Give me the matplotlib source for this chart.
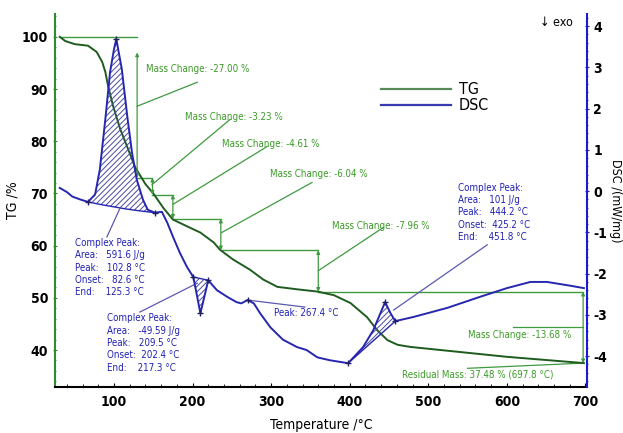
#!/usr/bin/env python3

import numpy as np
import matplotlib
matplotlib.use("Agg")
import matplotlib.pyplot as plt
import matplotlib.font_manager as fm
from matplotlib.ticker import MultipleLocator

# TG curve (temperature in degC, mass in %)
tg_temp = [31, 38, 50, 67, 78, 85, 89, 92.5, 99, 108, 118, 127, 140, 150, 163, 175, 193,
           210, 227, 235, 252, 273, 290, 308, 335, 359, 380, 401, 422, 435, 448, 461,
           477, 600, 698]
tg_mass = [100, 99.2, 98.6, 98.3, 97.1, 95.2, 93.3, 90.6, 86.7, 82.3, 78.5, 75.0, 71.8,
           70.0, 67.2, 65.0, 63.7, 62.5, 60.6, 59.2, 57.3, 55.4, 53.5, 52.1, 51.6, 51.2,
           50.5, 49.0, 46.3, 43.8, 41.9, 41.0, 40.6, 38.7, 37.5]

# DSC curve (mW/mg)
dsc_temp = [31, 40, 47, 57, 67, 76, 82, 89, 95, 100, 103, 110, 117, 123, 129, 137, 143,
            152, 161, 168, 175, 184, 193, 201, 210, 220, 231, 244, 256, 262, 270, 278,
            286, 299, 315, 333, 345, 359, 375, 398, 417, 430, 439, 445, 452, 458, 481,
            524, 566, 600, 630, 651, 677, 698]
dsc_val = [0.08, -0.02, -0.13, -0.2, -0.26, -0.08, 0.52, 1.74, 2.88, 3.44, 3.69, 2.96,
           1.81, 0.93, 0.28, -0.21, -0.45, -0.52, -0.5, -0.77, -1.1, -1.5, -1.84, -2.08,
           -2.96, -2.16, -2.4, -2.56, -2.69, -2.72, -2.64, -2.72, -2.96, -3.3, -3.6,
           -3.78, -3.85, -4.03, -4.1, -4.17, -3.78, -3.37, -2.96, -2.69, -2.96, -3.15,
           -3.05, -2.83, -2.56, -2.35, -2.2, -2.2, -2.28, -2.35]

# integration baselines / ranges of the three DSC peaks
base1_temp = [152, 130, 115, 100, 85, 67]
base1_val = [-0.52, -0.47, -0.43, -0.38, -0.33, -0.26]
peak1 = (67, 152)
peak2 = (201, 220)
peak3 = (398, 458)

# characteristic DSC points (+ markers)
mark_temp = [67, 103, 152, 201, 210, 220, 270, 398, 445, 458]
mark_val = [-0.26, 3.69, -0.52, -2.08, -2.96, -2.16, -2.64, -4.17, -2.69, -3.15]

# TG steps
step_temp = [129.5, 149, 175, 236, 360, 697]
mass_change = [-27.00, -3.23, -4.61, -6.04, -7.96, -13.68]
residual = (37.48, 697.8)

GREEN = "#1f5c1f"
LGREEN = "#3f9a3f"
TGREEN = "#3a9a26"
BLUE = "#2626b0"
SBLUE = "#1a1ad8"
TBLUE = "#2020b4"

plt.rcParams["axes.unicode_minus"] = False
plt.rcParams["hatch.linewidth"] = 0.7

# a condensed face looks closest to the original narrow font
if any("DejaVuSansCondensed" in f.fname for f in fm.fontManager.ttflist):
    plt.rcParams["font.family"] = ["DejaVu Sans"]
    plt.rcParams["font.stretch"] = "condensed"
    SMALL = 7
else:
    plt.rcParams["font.family"] = ["Liberation Sans", "DejaVu Sans"]
    SMALL = 6.5


def main():
    fig = plt.figure(figsize=(6.23, 4.33), dpi=100)
    ax = fig.add_axes([0.0883, 0.106, 0.854, 0.862])
    ax2 = ax.twinx()

    ax.set_xlim(25, 702)
    ax.set_ylim(32.9, 104.4)
    ax2.set_ylim(-4.75, 4.3)

    # TG
    ax.plot(tg_temp, tg_mass, color=GREEN, lw=1.4, zorder=3)

    # mass change steps
    levels = 100 + np.cumsum([0] + mass_change)
    ax.plot([31, step_temp[0]], [levels[0], levels[0]], color=LGREEN, lw=1)
    for i, t in enumerate(step_temp):
        ax.annotate("", xy=(t, levels[i + 1]), xytext=(t, levels[i] - (3 if i == 0 else 0)),
                    arrowprops=dict(arrowstyle="<|-|>", color=LGREEN, lw=0.9,
                                    mutation_scale=5, shrinkA=0, shrinkB=0))
        if i + 1 < len(step_temp):
            ax.plot([t, step_temp[i + 1]], [levels[i + 1], levels[i + 1]],
                    color=LGREEN, lw=1)

    # mass change labels: (text x, text y, leader from, leader to)
    mc_text = [(141, 93.8, (129.5, 86.7), (206, 91.3)),
               (190, 84.6, (148.6, 71.7), (248, 84.2)),
               (238, 79.4, (175, 67.9), (295, 79.0)),
               (299, 73.7, (237, 62.5), (352, 72.1)),
               (378, 63.8, (360, 55.2), (443, 63.5)),
               (551, 42.9, (608, 44.4), (697, 44.4))]
    for (tx, ty, p0, p1), mc in zip(mc_text, mass_change):
        ax.plot([p0[0], p1[0]], [p0[1], p1[1]], color=LGREEN, lw=0.9)
        ax.text(tx, ty, f"Mass Change: {mc:.2f} %", color=TGREEN, fontsize=SMALL,
                va="center", ha="left")
    ax.plot([550, 697], [36.5, 37.5], color=LGREEN, lw=0.9)
    ax.text(467, 35.4, f"Residual Mass: {residual[0]:.2f} % ({residual[1]:.1f} °C)",
            color=TGREEN, fontsize=SMALL, va="center", ha="left")

    # DSC
    ax2.plot(dsc_temp, dsc_val, color=BLUE, lw=1.4, zorder=3)
    t = np.array(dsc_temp)
    v = np.array(dsc_val)
    m1 = (t >= peak1[0]) & (t <= peak1[1])
    ax2.fill(np.r_[t[m1], base1_temp], np.r_[v[m1], base1_val],
             facecolor="none", edgecolor="#4a4aa0", hatch="//////", lw=0)
    ax2.plot(base1_temp, base1_val, color=BLUE, lw=1)
    for p in (peak2, peak3):
        m = (t >= p[0]) & (t <= p[1])
        ax2.fill(t[m], v[m], facecolor="none", edgecolor="#4a4aa0", hatch="//////", lw=0)
        ax2.plot([t[m][0], t[m][-1]], [v[m][0], v[m][-1]], color=BLUE, lw=1)
    ax2.plot(mark_temp, mark_val, "+", color="#202060", ms=5, mew=1, zorder=4)

    # DSC annotations
    ax2.plot([91, 108], [-1.11, -0.40], color="#5a5ab0", lw=0.9)
    ax2.text(50, -1.13, "Complex Peak:\nArea:   591.6 J/g\nPeak:   102.8 °C\n"
             "Onset:   82.6 °C\nEnd:    125.3 °C", color=TBLUE, fontsize=SMALL,
             va="top", ha="left", linespacing=1.3)
    ax2.plot([133, 206], [-2.93, -2.23], color="#5a5ab0", lw=0.9)
    ax2.text(91, -2.96, "Complex Peak:\nArea:   -49.59 J/g\nPeak:   209.5 °C\n"
             "Onset:  202.4 °C\nEnd:    217.3 °C", color=TBLUE, fontsize=SMALL,
             va="top", ha="left", linespacing=1.3)
    ax2.plot([270, 343], [-2.64, -2.81], color="#5a5ab0", lw=0.9)
    ax2.text(304, -2.95, "Peak: 267.4 °C", color=TBLUE, fontsize=SMALL, va="center")
    ax2.plot([575, 456], [-1.3, -2.88], color="#5a5ab0", lw=0.9)
    ax2.text(538, 0.21, "Complex Peak:\nArea:   101 J/g\nPeak:   444.2 °C\n"
             "Onset:  425.2 °C\nEnd:    451.8 °C", color=TBLUE, fontsize=SMALL,
             va="top", ha="left", linespacing=1.3)

    ax.text(0.912, 0.976, "↓ exo", transform=ax.transAxes, fontsize=9,
            va="center", ha="left")

    # legend
    ax.plot([], [], color="#5a8a5a", lw=1.6, label="TG")
    ax.plot([], [], color="#3a3ab0", lw=1.6, label="DSC")
    ax.legend(loc="center left", bbox_to_anchor=(0.585, 0.775), frameon=False,
              fontsize=11.5, handlelength=4.4, handletextpad=0.5, labelspacing=0.05)

    # axes styling
    ax.xaxis.set_major_locator(MultipleLocator(100))
    ax.xaxis.set_minor_locator(MultipleLocator(20))
    ax.yaxis.set_major_locator(MultipleLocator(10))
    ax.yaxis.set_minor_locator(MultipleLocator(2))
    ax2.yaxis.set_major_locator(MultipleLocator(1))
    ax2.yaxis.set_minor_locator(MultipleLocator(0.2))

    ax.spines["top"].set_visible(False)
    ax2.spines["top"].set_visible(False)
    ax2.spines["left"].set_visible(False)
    ax2.spines["bottom"].set_visible(False)
    ax.spines["right"].set_visible(False)
    ax.spines["left"].set_color("#2e8b2e")
    ax.spines["left"].set_linewidth(1.5)
    ax2.spines["right"].set_color(SBLUE)
    ax2.spines["right"].set_linewidth(1.5)
    ax.spines["bottom"].set_linewidth(1.5)

    ax.tick_params(axis="x", which="both", direction="in", length=3, labelsize=10,
                   pad=6)
    ax.tick_params(axis="x", which="minor", length=2)
    ax.tick_params(axis="y", which="both", direction="inout", color="#2e8b2e",
                   length=3, labelsize=10)
    ax.tick_params(axis="y", which="minor", length=2)
    ax2.tick_params(axis="y", which="both", direction="inout", color=SBLUE,
                    length=3, labelsize=10, pad=3)
    ax2.tick_params(axis="y", which="minor", length=2)
    for lbl in ax.get_xticklabels() + ax.get_yticklabels() + ax2.get_yticklabels():
        lbl.set_fontweight("bold")

    ax.set_xlabel("Temperature /°C", fontsize=10, labelpad=6)
    ax.set_ylabel("TG /%", fontsize=10)
    ax.yaxis.set_label_coords(-0.066, 0.5)
    ax2.set_ylabel("DSC /(mW/mg)", fontsize=9, rotation=270, va="center")
    ax2.yaxis.set_label_coords(1.054, 0.5)

    fig.savefig("out.png", dpi=100)


if __name__ == "__main__":
    main()
